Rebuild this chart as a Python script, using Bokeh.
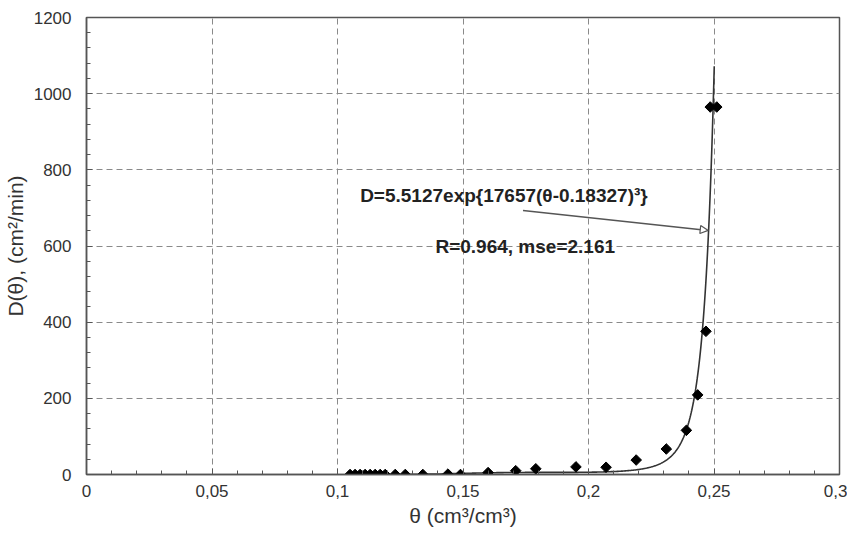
import numpy as np
from bokeh.plotting import figure
from bokeh.models import FixedTicker, Label, Arrow, NormalHead, ColumnDataSource
from bokeh.embed import file_html
from bokeh.resources import INLINE

# Measured data points
theta = [0.105, 0.107, 0.109, 0.111, 0.113, 0.115, 0.117, 0.119, 0.123, 0.127,
         0.134, 0.144, 0.149, 0.160, 0.171, 0.179, 0.195, 0.207, 0.219, 0.231,
         0.239, 0.2435, 0.2468, 0.2485, 0.2511]
D = [0, 0, 0, 0, 0, 0, 0, 0, 0, 0,
     0, 1, 0, 5, 10, 15, 20, 19, 38, 67,
     116, 209, 376, 965, 965]

# Fitted model D = a*exp(b*(theta - c)^3)
fit_a = 5.5127
fit_b = 17657.0
fit_c = 0.18327
fit_theta_min = 0.105
fit_theta_max = 0.2501

x_ticks = [0, 0.05, 0.1, 0.15, 0.2, 0.25, 0.3]
x_tick_labels = ["0", "0,05", "0,1", "0,15", "0,2", "0,25", "0,3"]
y_ticks = [0, 200, 400, 600, 800, 1000, 1200]

eq_text = "D=5.5127exp{17657(θ-0.18327)³}"
r_text = "R=0.964, mse=2.161"

FONT = "Liberation Sans"

p = figure(frame_width=753, frame_height=457,
           x_range=(0, 0.3), y_range=(0, 1200),
           output_backend="svg", toolbar_location=None,
           min_border_left=80, min_border_right=8,
           min_border_top=17, min_border_bottom=10,
           background_fill_color="white", border_fill_color="white")

p.outline_line_color = "#555555"
p.outline_line_width = 1.5

x_minor = [round(i * 0.01, 2) for i in range(31)]
y_minor = list(range(0, 1201, 40))
p.xaxis.ticker = FixedTicker(ticks=x_ticks, minor_ticks=x_minor)
p.yaxis.ticker = FixedTicker(ticks=y_ticks, minor_ticks=y_minor)
p.xaxis.major_label_overrides = {t: l for t, l in zip(x_ticks, x_tick_labels)}

for ax in (p.xaxis[0], p.yaxis[0]):
    ax.axis_line_color = "#555555"
    ax.axis_line_width = 1.5
    ax.major_tick_in = 6
    ax.major_tick_out = 0
    ax.minor_tick_in = 4
    ax.minor_tick_out = 0
    ax.major_tick_line_color = "#555555"
    ax.minor_tick_line_color = "#555555"
    ax.major_label_text_font = FONT
    ax.major_label_text_font_size = "17px"
    ax.major_label_text_color = "#333333"
    ax.axis_label_text_font = FONT
    ax.axis_label_text_font_size = "21px"
    ax.axis_label_text_font_style = "normal"
    ax.axis_label_text_color = "#333333"

p.xaxis.axis_label = "θ (cm³/cm³)"
p.yaxis.axis_label = "D(θ), (cm²/min)"
p.xaxis.major_label_standoff = 10
p.yaxis.major_label_standoff = 15
p.xaxis.axis_label_standoff = 4
p.yaxis.axis_label_standoff = 4

p.xgrid.ticker = FixedTicker(ticks=x_ticks)
p.ygrid.ticker = FixedTicker(ticks=y_ticks)
for g in (p.xgrid[0], p.ygrid[0]):
    g.grid_line_color = "#8a8a8a"
    g.grid_line_dash = "6 4"
    g.grid_line_width = 1

# fitted curve from the equation shown on the chart
th = np.linspace(fit_theta_min, fit_theta_max, 600)
Dfit = fit_a * np.exp(fit_b * (th - fit_c) ** 3)
p.line(th, Dfit, line_color="#333333", line_width=1.6)

src = ColumnDataSource(dict(x=theta, y=D))
p.scatter("x", "y", source=src, marker="square", size=7.5, angle=np.pi / 4,
          fill_color="black", line_color="black")

p.add_layout(Label(x=0.1663, y=733, text=eq_text, text_align="center",
                   text_baseline="middle", text_font=FONT, text_font_size="19px",
                   text_font_style="bold", text_color="#222222"))
p.add_layout(Label(x=0.1748, y=599, text=r_text, text_align="center",
                   text_baseline="middle", text_font=FONT, text_font_size="19px",
                   text_font_style="bold", text_color="#222222"))
p.add_layout(Arrow(end=NormalHead(size=8, fill_color="white", line_color="#555555",
                                  line_width=1.2),
                   x_start=0.1739, y_start=693, x_end=0.2477, y_end=641,
                   line_color="#555555", line_width=1.5))

open("out.html", "w").write(file_html(p, INLINE))
